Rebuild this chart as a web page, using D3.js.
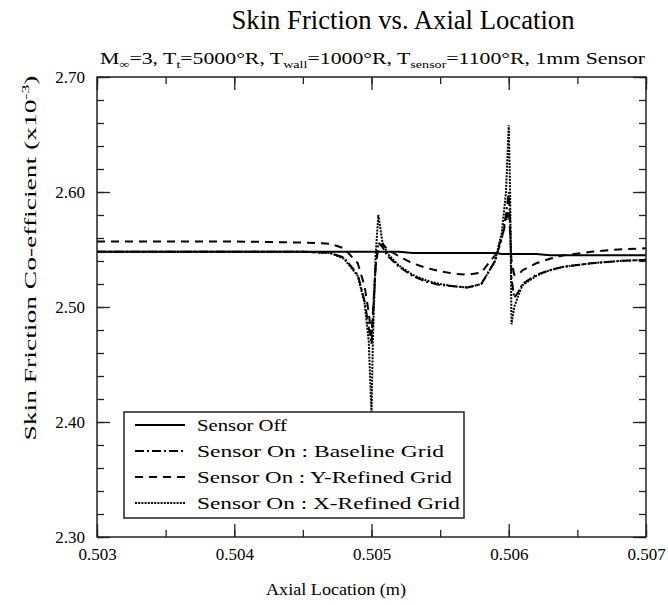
<!DOCTYPE html>
<html><head><meta charset="utf-8">
<script src="https://cdn.jsdelivr.net/npm/d3@7"></script>
<style>body{margin:0;background:#fff}svg{display:block}</style>
</head><body>
<svg id="c" width="668" height="605"></svg>
<script>
const xValues = [0.5030,0.5040,0.5045,0.5047,0.5048,0.5049,0.50495,0.50498,0.50500,0.50501,0.50503,0.50505,0.50508,0.50512,0.5052,0.5053,0.5054,0.5055,0.5056,0.5057,0.5058,0.5059,0.50595,0.50598,0.50600,0.50601,0.50602,0.50604,0.50607,0.5061,0.5062,0.5063,0.5064,0.5066,0.5068,0.5070];
const sensorOff = [2.548,2.548,2.548,2.548,2.548,2.548,2.548,2.548,2.548,2.548,2.548,2.548,2.548,2.548,2.548,2.547,2.547,2.547,2.547,2.547,2.547,2.547,2.546,2.546,2.546,2.546,2.546,2.546,2.546,2.546,2.546,2.545,2.545,2.545,2.545,2.545];
const baselineGrid = [2.548,2.548,2.548,2.547,2.543,2.528,2.505,2.482,2.468,2.490,2.535,2.556,2.552,2.544,2.535,2.527,2.522,2.519,2.518,2.517,2.520,2.540,2.560,2.580,2.600,2.575,2.525,2.508,2.513,2.520,2.528,2.532,2.535,2.538,2.540,2.541];
const yRefinedGrid = [2.557,2.557,2.556,2.555,2.551,2.538,2.518,2.495,2.475,2.495,2.535,2.552,2.555,2.550,2.544,2.538,2.534,2.531,2.529,2.528,2.530,2.545,2.560,2.575,2.585,2.565,2.540,2.528,2.528,2.532,2.538,2.542,2.545,2.548,2.550,2.551];
const xRefinedGrid = [2.548,2.548,2.548,2.547,2.542,2.527,2.503,2.470,2.407,2.470,2.545,2.580,2.556,2.546,2.536,2.528,2.523,2.520,2.518,2.517,2.520,2.540,2.565,2.600,2.658,2.600,2.485,2.500,2.510,2.519,2.527,2.532,2.535,2.538,2.540,2.541];
const seriesNames = ["Sensor Off","Sensor On : Baseline Grid","Sensor On : Y-Refined Grid","Sensor On : X-Refined Grid"];
const xMajorTicks = [0.503,0.504,0.505,0.506,0.507];
const xTickLabels = ["0.503","0.504","0.505","0.506","0.507"];
const yMajorTicks = [2.30,2.40,2.50,2.60,2.70];
const yTickLabels = ["2.30","2.40","2.50","2.60","2.70"];

const svg = d3.select("#c");
const m = {l:97, t:77, r:22, b:68};
const W = 668 - m.l - m.r, H = 605 - m.t - m.b;
const x = d3.scaleLinear().domain([0.503,0.507]).range([0,W]);
const y = d3.scaleLinear().domain([2.30,2.70]).range([H,0]);
const g = svg.append("g").attr("transform",`translate(${m.l},${m.t})`);

const serif = "'Liberation Serif', 'Times New Roman', serif";

svg.append("defs").append("clipPath").attr("id","clip").append("rect").attr("width",W).attr("height",H);

const series = [
  {name:seriesNames[0], v:sensorOff, dash:null, w:2},
  {name:seriesNames[1], v:baselineGrid, dash:"9,3,2,3", w:2},
  {name:seriesNames[2], v:yRefinedGrid, dash:"8,6", w:2},
  {name:seriesNames[3], v:xRefinedGrid, dash:"2,1.2", w:2}
];
const line = d3.line().x(d=>x(d[0])).y(d=>y(d[1]));
const lg = g.append("g").attr("clip-path","url(#clip)");
[2,1,3,0].forEach(i=>{
  const s = series[i];
  lg.append("path").datum(xValues.map((xv,j)=>[xv,s.v[j]]))
    .attr("d",line).attr("fill","none").attr("stroke","#000")
    .attr("stroke-width",s.w).attr("stroke-dasharray",s.dash);
});

const xMinor = d3.range(0,9).map(i=>0.503+i*0.0005);
const yMinor = d3.range(0,21).map(i=>2.30+i*0.02);
function styleAxis(sel){
  sel.attr("font-family",serif);
  sel.select(".domain").remove();
  sel.selectAll("line").attr("stroke","#222").attr("stroke-width",1.3);
  sel.selectAll("text").attr("font-family",serif).attr("font-size",17).attr("fill","#000");
}
g.append("g").call(d3.axisLeft(y).tickValues(yMinor).tickSize(-7).tickFormat("")).call(styleAxis);
g.append("g").attr("transform",`translate(${W},0)`).call(d3.axisLeft(y).tickValues(yMinor).tickSize(7).tickFormat("")).call(styleAxis);
g.append("g").attr("transform",`translate(0,${H})`).call(d3.axisBottom(x).tickValues(xMinor).tickSize(-7).tickFormat("")).call(styleAxis);
g.append("g").call(d3.axisBottom(x).tickValues(xMinor).tickSize(7).tickFormat("")).call(styleAxis);
g.append("g").call(d3.axisLeft(y).tickValues(yMajorTicks).tickSize(-13).tickPadding(12)
  .tickFormat((d,i)=>yTickLabels[i])).call(styleAxis);
g.append("g").attr("transform",`translate(${W},0)`).call(d3.axisLeft(y).tickValues(yMajorTicks).tickSize(13).tickFormat("")).call(styleAxis);
g.append("g").attr("transform",`translate(0,${H})`).call(d3.axisBottom(x).tickValues(xMajorTicks).tickSize(-13).tickPadding(11)
  .tickFormat((d,i)=>xTickLabels[i])).call(styleAxis);
g.append("g").call(d3.axisBottom(x).tickValues(xMajorTicks).tickSize(13).tickFormat("")).call(styleAxis);
g.append("rect").attr("width",W).attr("height",H).attr("fill","none").attr("stroke","#222").attr("stroke-width",1.5);

// titles
svg.append("text").attr("x",403).attr("y",29).attr("text-anchor","middle")
  .attr("font-family",serif).attr("font-size",27).attr("textLength",343).attr("lengthAdjust","spacingAndGlyphs")
  .text("Skin Friction vs. Axial Location");
const st = svg.append("text").attr("x",100).attr("y",64)
  .attr("font-family",serif).attr("font-size",17).attr("textLength",545).attr("lengthAdjust","spacingAndGlyphs");
const parts = [["M",0],["∞",1],["=3, T",0],["t",1],["=5000°R, T",0],["wall",1],["=1000°R, T",0],["sensor",1],["=1100°R, 1mm Sensor",0]];
let prevSub = 0;
parts.forEach(([t,sub])=>{
  const ts = st.append("tspan").text(t);
  if(sub){ ts.attr("font-size",11).attr("dy", prevSub?0:4); }
  else { ts.attr("dy", prevSub?-4:0); }
  prevSub = sub;
});
svg.append("text").attr("x",336).attr("y",595).attr("text-anchor","middle")
  .attr("font-family",serif).attr("font-size",17).attr("textLength",140).attr("lengthAdjust","spacingAndGlyphs")
  .text("Axial Location (m)");
const yl = svg.append("text").attr("transform","translate(36,258) rotate(-90)").attr("text-anchor","middle")
  .attr("font-family",serif).attr("font-size",17).attr("textLength",365).attr("lengthAdjust","spacingAndGlyphs");
yl.append("tspan").text("Skin Friction Co-efficient (x10");
yl.append("tspan").attr("font-size",11).attr("dy",-7).text("-3");
yl.append("tspan").attr("dy",7).text(")");

// legend
const legendLens = [90,247,255,263];
const L = svg.append("g");
L.append("rect").attr("x",124).attr("y",412).attr("width",340).attr("height",106)
  .attr("fill","#fff").attr("stroke","#222").attr("stroke-width",1.5);
series.forEach((s,i)=>{
  const yy = 425 + i*26;
  L.append("line").attr("x1",135).attr("x2",185).attr("y1",yy).attr("y2",yy)
    .attr("stroke","#000").attr("stroke-width",2).attr("stroke-dasharray",s.dash);
  L.append("text").attr("x",197).attr("y",yy+6).attr("font-family",serif).attr("font-size",17)
    .attr("textLength",legendLens[i]).attr("lengthAdjust","spacingAndGlyphs")
    .text(s.name);
});
</script>
</body></html>
